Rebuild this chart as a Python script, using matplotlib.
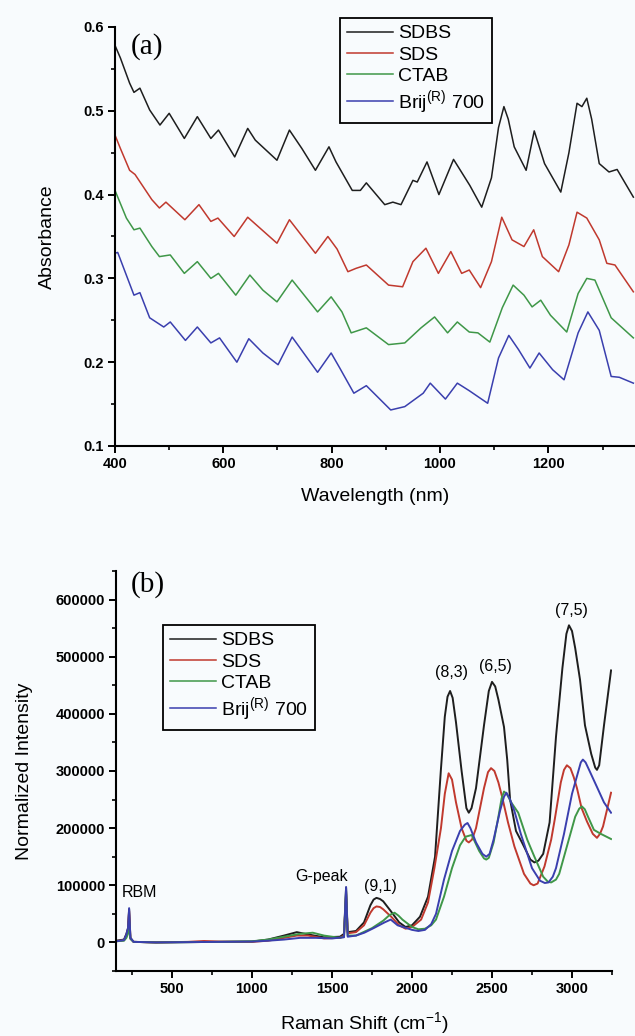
import matplotlib
matplotlib.use("Agg")
import matplotlib.pyplot as plt
from matplotlib.ticker import MultipleLocator, FuncFormatter
from matplotlib.lines import Line2D

plt.rcParams['font.family'] = ['Liberation Sans', 'DejaVu Sans']
plt.rcParams['mathtext.fontset'] = 'custom'
plt.rcParams['mathtext.rm'] = 'Liberation Sans'
plt.rcParams['mathtext.it'] = 'Liberation Sans'

series_names = ["SDBS", "SDS", "CTAB", "Brij$^{\\mathrm{(R)}}$ 700"]
colors = ["#1e1e1e", "#c0392e", "#3f9748", "#3a3fae"]

# ---------- Panel (a): absorbance ----------
sdbs_wl = [400, 410, 427, 435, 446, 464, 483, 500, 528, 552, 577, 591, 621, 645, 659, 699, 722, 745, 770, 795, 808, 838, 853,
           864, 898, 913, 928, 950, 958, 976, 998, 1025, 1055, 1077, 1095, 1108, 1118, 1126, 1137, 1159, 1174, 1193, 1223,
           1238, 1253, 1262, 1271, 1280, 1294, 1312, 1327, 1357]
sdbs_abs = [0.578, 0.563, 0.533, 0.522, 0.527, 0.501, 0.483, 0.497, 0.467, 0.493, 0.467, 0.477, 0.445, 0.479, 0.465, 0.441,
            0.477, 0.455, 0.429, 0.457, 0.439, 0.405, 0.405, 0.414, 0.388, 0.391, 0.388, 0.417, 0.415, 0.439, 0.400, 0.442,
            0.411, 0.385, 0.420, 0.480, 0.505, 0.490, 0.457, 0.429, 0.476, 0.437, 0.403, 0.450, 0.509, 0.505, 0.515, 0.490,
            0.437, 0.427, 0.430, 0.397]

sds_wl = [400, 410, 427, 437, 468, 482, 494, 529, 555, 577, 590, 620, 645, 699, 722, 770, 793, 810, 830, 845, 864, 905, 931,
          950, 974, 997, 1020, 1040, 1054, 1075, 1095, 1114, 1133, 1155, 1173, 1189, 1219, 1238, 1253, 1271, 1294, 1308,
          1323, 1357]
sds_abs = [0.471, 0.455, 0.429, 0.424, 0.394, 0.384, 0.391, 0.370, 0.388, 0.368, 0.372, 0.350, 0.373, 0.342, 0.370, 0.330,
           0.350, 0.335, 0.308, 0.312, 0.316, 0.292, 0.290, 0.320, 0.336, 0.306, 0.332, 0.306, 0.310, 0.289, 0.320, 0.373,
           0.346, 0.338, 0.358, 0.326, 0.308, 0.340, 0.379, 0.372, 0.346, 0.318, 0.316, 0.284]

ctab_wl = [400, 421, 435, 446, 468, 482, 502, 528, 552, 577, 591, 623, 649, 673, 699, 727, 774, 799, 819, 836, 864, 905, 935,
           965, 990, 1014, 1032, 1054, 1070, 1092, 1115, 1135, 1155, 1170, 1186, 1204, 1234, 1255, 1271, 1286, 1316, 1357]
ctab_abs = [0.405, 0.372, 0.358, 0.360, 0.338, 0.326, 0.328, 0.306, 0.320, 0.300, 0.306, 0.280, 0.304, 0.286, 0.272, 0.298,
            0.260, 0.278, 0.260, 0.235, 0.241, 0.221, 0.223, 0.241, 0.254, 0.235, 0.248, 0.236, 0.235, 0.224, 0.265, 0.292,
            0.280, 0.266, 0.274, 0.256, 0.236, 0.282, 0.300, 0.298, 0.253, 0.229]

brij_wl = [400, 405, 435, 446, 464, 490, 502, 530, 552, 577, 593, 625, 647, 673, 701, 727, 774, 799, 815, 841, 864, 909, 935,
           969, 982, 1010, 1032, 1054, 1088, 1108, 1127, 1145, 1166, 1183, 1208, 1229, 1255, 1273, 1294, 1316, 1331, 1357]
brij_abs = [0.330, 0.331, 0.280, 0.283, 0.253, 0.242, 0.248, 0.226, 0.242, 0.223, 0.229, 0.200, 0.228, 0.211, 0.197, 0.230,
            0.188, 0.211, 0.193, 0.163, 0.172, 0.143, 0.147, 0.163, 0.175, 0.156, 0.175, 0.166, 0.151, 0.205, 0.232, 0.215,
            0.193, 0.211, 0.191, 0.179, 0.235, 0.260, 0.238, 0.183, 0.182, 0.175]

# ---------- Panel (b): Raman ----------
sdbs_rs = [150, 200, 215, 225, 232, 240, 260, 400, 600, 800, 1000, 1100, 1200, 1280, 1350, 1450, 1550, 1575, 1588, 1598,
           1650, 1700, 1740, 1760, 1778, 1800, 1820, 1867, 1920, 1960, 2000, 2050, 2100, 2144, 2180, 2205, 2222, 2238,
           2254, 2275, 2310, 2340, 2355, 2372, 2400, 2450, 2480, 2500, 2520, 2540, 2575, 2595, 2613, 2650, 2689, 2740,
           2765, 2790, 2820, 2860, 2900, 2940, 2965, 2981, 3000, 3020, 3050, 3081, 3120, 3145, 3156, 3170, 3200, 3244]
sdbs_int = [3000, 5000, 15000, 25000, 58000, 8000, 1000, 0, 500, 1000, 1500, 5000, 12000, 18000, 14000, 9000, 10000, 15000,
            96000, 18000, 20000, 35000, 65000, 75000, 78000, 76000, 72000, 55000, 35000, 27000, 30000, 45000, 80000,
            150000, 300000, 395000, 430000, 440000, 428000, 385000, 300000, 235000, 227000, 235000, 270000, 380000,
            440000, 456000, 448000, 425000, 377000, 320000, 250000, 195000, 174000, 145000, 140000, 143000, 155000,
            210000, 360000, 480000, 540000, 555000, 545000, 515000, 460000, 380000, 330000, 306000, 302000, 310000,
            380000, 476000]

sds_rs = [150, 200, 215, 225, 232, 240, 260, 400, 600, 700, 800, 1000, 1100, 1200, 1280, 1350, 1450, 1550, 1575, 1588, 1598,
          1650, 1700, 1740, 1760, 1778, 1800, 1820, 1870, 1920, 1960, 2000, 2057, 2100, 2140, 2181, 2205, 2229, 2250,
          2275, 2310, 2340, 2355, 2375, 2400, 2450, 2475, 2494, 2515, 2540, 2563, 2600, 2640, 2700, 2740, 2760, 2785,
          2828, 2870, 2892, 2930, 2950, 2968, 2990, 3010, 3031, 3060, 3093, 3130, 3156, 3175, 3194, 3244]
sds_int = [2000, 4000, 12000, 22000, 55000, 7000, 1000, 0, 1000, 2500, 1500, 1000, 3000, 8000, 12000, 12000, 7000, 8000,
           12000, 85000, 16000, 18000, 30000, 52000, 60000, 63000, 62000, 58000, 45000, 30000, 24000, 27000, 40000,
           70000, 130000, 200000, 260000, 296000, 285000, 245000, 200000, 178000, 175000, 180000, 200000, 270000,
           298000, 305000, 300000, 280000, 255000, 210000, 168000, 120000, 103000, 100000, 103000, 133000, 180000,
           215000, 280000, 302000, 310000, 305000, 290000, 270000, 235000, 212000, 190000, 183000, 190000, 203000,
           262000]

ctab_rs = [150, 200, 215, 225, 232, 240, 260, 400, 800, 1000, 1100, 1200, 1300, 1380, 1450, 1550, 1575, 1588, 1598, 1650,
           1750, 1820, 1860, 1891, 1915, 1940, 2000, 2040, 2081, 2120, 2150, 2200, 2250, 2300, 2335, 2373, 2420, 2450,
           2464, 2480, 2510, 2540, 2560, 2575, 2592, 2620, 2664, 2720, 2765, 2820, 2850, 2870, 2900, 2920, 2970, 3020,
           3045, 3062, 3080, 3100, 3137, 3180, 3244]
ctab_int = [2000, 3000, 8000, 15000, 40000, 6000, 1000, 0, 1000, 2000, 5000, 10000, 15000, 17000, 12000, 8000, 10000, 90000,
            12000, 12000, 25000, 38000, 48000, 52000, 47000, 40000, 27000, 23000, 24000, 30000, 40000, 80000, 130000,
            170000, 185000, 188000, 160000, 147000, 145000, 148000, 175000, 220000, 252000, 264000, 260000, 245000,
            227000, 180000, 150000, 115000, 106000, 105000, 110000, 120000, 170000, 220000, 234000, 238000, 233000,
            220000, 197000, 190000, 181000]

brij_rs = [150, 200, 215, 225, 232, 240, 260, 400, 800, 1000, 1100, 1200, 1300, 1400, 1500, 1575, 1588, 1598, 1650, 1702,
           1760, 1828, 1867, 1910, 1956, 2000, 2040, 2081, 2120, 2150, 2200, 2250, 2300, 2330, 2347, 2365, 2400, 2440,
           2464, 2485, 2510, 2550, 2575, 2590, 2610, 2640, 2680, 2750, 2800, 2830, 2853, 2880, 2900, 2950, 3000, 3040,
           3055, 3068, 3085, 3110, 3156, 3200, 3244]
brij_int = [2000, 4000, 14000, 25000, 60000, 8000, 1000, 0, 1000, 1500, 3000, 5000, 8000, 8000, 7000, 9000, 97000, 10000,
            12000, 17000, 25000, 35000, 40000, 30000, 26000, 22000, 20000, 22000, 32000, 50000, 110000, 160000, 195000,
            206000, 209000, 200000, 175000, 155000, 150000, 155000, 180000, 230000, 255000, 262000, 252000, 230000,
            190000, 130000, 108000, 104000, 105000, 115000, 130000, 190000, 260000, 300000, 315000, 320000, 315000,
            300000, 272000, 245000, 227000]

raman_labels = ["RBM", "G-peak", "(9,1)", "(8,3)", "(6,5)", "(7,5)"]
raman_label_x = [294, 1437, 1800, 2244, 2519, 2994]
raman_label_y = [87000, 115000, 98000, 473000, 482000, 581000]

bg = "#f8fbfd"
fig = plt.figure(figsize=(6.35, 10.36), dpi=100, facecolor=bg)

# ---- top axes
axa = fig.add_axes([115/635, 1-446/1036, 1-115/635, (446-27)/1036])
axa.set_facecolor(bg)
abs_x = [sdbs_wl, sds_wl, ctab_wl, brij_wl]
abs_y = [sdbs_abs, sds_abs, ctab_abs, brij_abs]
for xs, ys, c, n in zip(abs_x, abs_y, colors, series_names):
    axa.plot(xs, ys, color=c, lw=1.1, label=n, solid_joinstyle="round")
axa.set_xlim(400, 1360)
axa.set_ylim(0.1, 0.6)
axa.xaxis.set_major_locator(MultipleLocator(200))
axa.xaxis.set_minor_locator(MultipleLocator(100))
axa.yaxis.set_major_locator(MultipleLocator(0.1))
axa.yaxis.set_minor_locator(MultipleLocator(0.05))
axa.yaxis.set_major_formatter(FuncFormatter(lambda v, p: f"{v:.1f}"))
axa.set_xlabel("Wavelength (nm)", fontsize=14, labelpad=12)
axa.set_ylabel("Absorbance", fontsize=14, labelpad=20)
axa.text(0.03, 0.985, "(a)", transform=axa.transAxes, fontsize=21, family="Liberation Serif",
         va="top", ha="left")

# ---- bottom axes
axb = fig.add_axes([116/635, 1-971/1036, (612-116)/635, (971-571)/1036])
axb.set_facecolor(bg)
ram_x = [sdbs_rs, sds_rs, ctab_rs, brij_rs]
ram_y = [sdbs_int, sds_int, ctab_int, brij_int]
for xs, ys, c, n in zip(ram_x, ram_y, colors, series_names):
    axb.plot(xs, ys, color=c, lw=1.4, label=n, solid_joinstyle="round")
axb.set_xlim(150, 3250)
axb.set_ylim(-50000, 650000)
axb.xaxis.set_major_locator(MultipleLocator(500))
axb.xaxis.set_minor_locator(MultipleLocator(250))
axb.yaxis.set_major_locator(MultipleLocator(100000))
axb.yaxis.set_minor_locator(MultipleLocator(50000))
axb.yaxis.set_major_formatter(FuncFormatter(lambda v, p: f"{int(round(v))}"))
axb.set_xlabel("Raman Shift (cm$^{-1}$)", fontsize=14, labelpad=10)
axb.set_ylabel("Normalized Intensity", fontsize=14, labelpad=16)
axb.text(0.03, 1.0, "(b)", transform=axb.transAxes, fontsize=21, family="Liberation Serif",
         va="top", ha="left")
for t, x, y in zip(raman_labels, raman_label_x, raman_label_y):
    axb.text(x, y, t, fontsize=11.5, ha="center", va="center")

for ax in (axa, axb):
    for s in ("top", "right"):
        ax.spines[s].set_visible(False)
    for s in ("left", "bottom"):
        ax.spines[s].set_linewidth(1.5)
    ax.tick_params(which="major", direction="out", length=5, width=1.4, labelsize=10.5, pad=3)
    ax.tick_params(which="minor", direction="out", length=3, width=1.2)
    for lab in ax.get_xticklabels() + ax.get_yticklabels():
        lab.set_fontweight("bold")

def add_legend(ax, x0, y0):
    handles = [Line2D([0], [0], color=c, lw=1.1) for c in colors]
    leg = ax.legend(handles, series_names, loc="upper left", bbox_to_anchor=(x0, y0),
                    bbox_transform=fig.transFigure, borderaxespad=0, fontsize=14, frameon=True,
                    fancybox=False, framealpha=1, edgecolor="black", facecolor=bg,
                    handlelength=2.4, handletextpad=0.25, labelspacing=0.18, borderpad=0.35)
    leg.get_frame().set_linewidth(1.3)

add_legend(axa, 340/635, 1-18/1036)
add_legend(axb, 163/635, 1-625/1036)

fig.savefig("out.png", dpi=100, facecolor=bg)
